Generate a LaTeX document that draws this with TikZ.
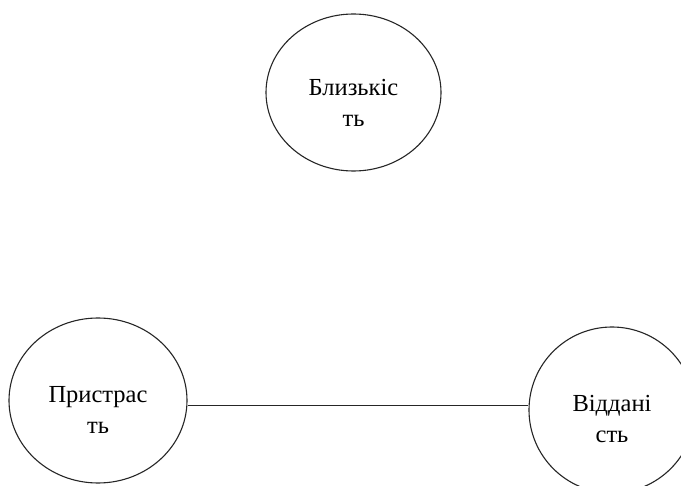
\documentclass[tikz,border=0pt]{standalone}
\usepackage{fontspec}
\setmainfont{Liberation Serif}
\usetikzlibrary{shapes.geometric}
\begin{document}
\begin{tikzpicture}[x=1pt,y=-1pt,
  circ/.style={draw=black!85, line width=1.1pt, ellipse, inner sep=0pt},
  txt/.style={align=center, font=\fontsize{24.5}{31}\selectfont, text=black, inner sep=0pt},
  conn/.style={draw=black!85, line width=1.1pt}]
\useasboundingbox[fill=white] (0,0) rectangle (681,486);
\node[circ, minimum width=175pt, minimum height=157pt] (b) at (353.5,92.5) {};
\node[circ, minimum width=178pt, minimum height=165pt] (p) at (98,400.5) {};
\node[circ, minimum width=166pt, minimum height=166pt] (v) at (612,410) {};
\node[txt] (bt) at ([yshift=-10pt]b.center) {Близькіс\\ть};
\node[txt] (pt) at ([yshift=-9pt]p.center) {Пристрас\\ть};
\node[txt] (vt) at ([yshift=-9pt]v.center) {Віддані\\сть};
\draw[conn] ([yshift=-5pt]p.east) -- ([yshift=-5pt]p.east -| v.west);
\end{tikzpicture}
\end{document}
